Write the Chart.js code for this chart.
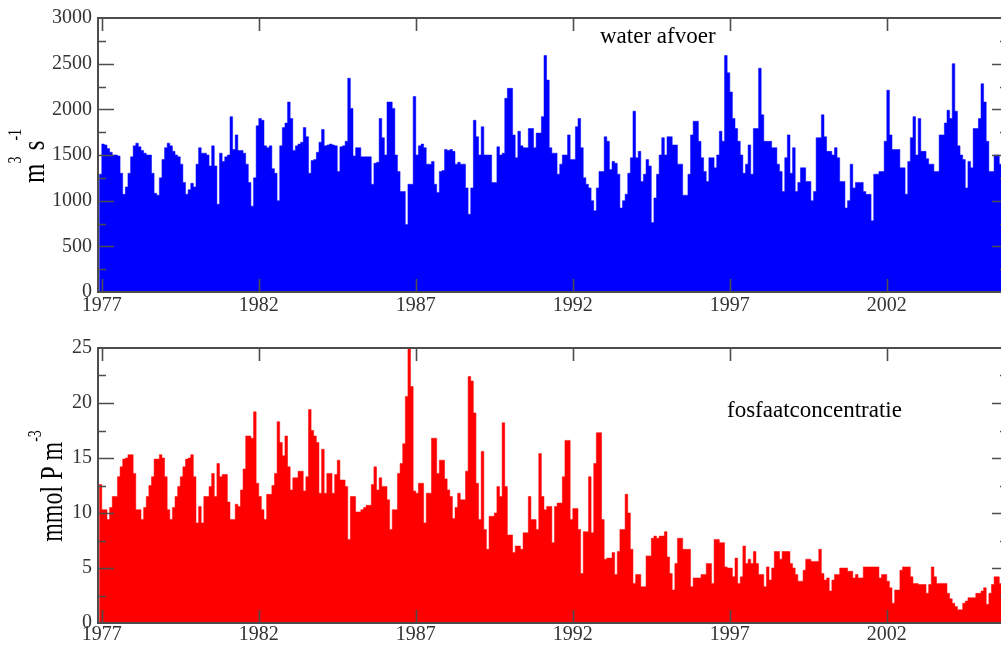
<!DOCTYPE html>
<html>
<head>
<meta charset="utf-8">
<script src="https://cdn.jsdelivr.net/npm/chart.js@4.4.1/dist/chart.umd.min.js"></script>
<style>
  html, body { margin: 0; padding: 0; background: #fff; overflow: hidden; }
  body { width: 1001px; height: 649px; position: relative; }
  canvas { position: absolute; left: 0; }
</style>
</head>
<body>
<canvas id="afvoerChart" width="1010" height="325" style="top:0"></canvas>
<canvas id="fosfaatChart" width="1010" height="324" style="top:325px"></canvas>
<script>
// monthly values, first entry is December 1976
const seriesStart = 1976 + 11 / 12;

// river discharge, m3/s
const afvoer = [
  1290,
  1620, 1610, 1570, 1530, 1500, 1500, 1490, 1300, 1070, 1150, 1300, 1480, // 1977
  1600, 1630, 1590, 1550, 1520, 1500, 1500, 1300, 1080, 1060, 1250, 1450, // 1978
  1580, 1630, 1600, 1540, 1500, 1480, 1400, 1200, 1070, 1120, 1190, 1150, // 1979
  1400, 1580, 1520, 1520, 1500, 1380, 1600, 1380, 960, 1520, 1430, 1480,  // 1980
  1500, 1920, 1560, 1720, 1550, 1550, 1520, 1400, 1200, 940, 1250, 1820,  // 1981
  1900, 1880, 1600, 1580, 1600, 1350, 1300, 1000, 1600, 1800, 1850, 2080, // 1982
  1900, 1550, 1600, 1620, 1640, 1800, 1700, 1300, 1440, 1450, 1530, 1640, // 1983
  1780, 1600, 1610, 1620, 1610, 1600, 1320, 1590, 1600, 1650, 2340, 2010, // 1984
  1490, 1580, 1580, 1480, 1480, 1480, 1480, 1180, 1410, 1420, 1900, 1690, // 1985
  1500, 2080, 2080, 2010, 1500, 1320, 1100, 1100, 740, 1180, 1180, 2140,  // 1986
  1500, 1600, 1620, 1580, 1400, 1400, 1430, 1180, 1090, 1320, 1330, 1560, // 1987
  1550, 1560, 1540, 1400, 1420, 1400, 1400, 1140, 850, 1140, 1880, 1700,  // 1988
  1500, 1810, 1500, 1500, 1500, 1200, 1200, 1590, 1500, 1520, 2120, 2230, // 1989
  2230, 1720, 1470, 1760, 1600, 1580, 1580, 1790, 1790, 1580, 1740, 1740, // 1990
  1920, 2590, 2320, 1580, 1520, 1520, 1290, 1400, 1500, 1500, 1720, 1450, // 1991
  1450, 1810, 1900, 1580, 1250, 1180, 1140, 1000, 890, 1140, 1320, 1320,  // 1992
  1700, 1650, 1340, 1430, 1410, 1290, 920, 1000, 1070, 1300, 1470, 1980,  // 1993
  1470, 1540, 1210, 1290, 1450, 1380, 760, 1030, 1290, 1500, 1690, 1500,  // 1994
  1700, 1700, 1610, 1610, 1400, 1400, 1060, 1060, 1290, 1720, 1870, 1870, // 1995
  1650, 1470, 1320, 1210, 1470, 1470, 1360, 1500, 1760, 1650, 2590, 2400, // 1996
  2190, 1900, 1790, 1650, 1500, 1300, 1400, 1610, 1290, 1790, 1790, 2450, // 1997
  1940, 1650, 1650, 1650, 1580, 1580, 1400, 1320, 1100, 1470, 1720, 1300, // 1998
  1580, 1100, 1200, 1360, 1360, 1210, 1210, 1000, 1100, 1690, 1690, 1940, // 1999
  1700, 1540, 1540, 1500, 1580, 1470, 1210, 1210, 920, 1000, 1400, 1140,  // 2000
  1200, 1200, 1200, 1100, 1070, 1070, 780, 1290, 1290, 1320, 1320, 1650,  // 2001
  2210, 1720, 1560, 1560, 1560, 1360, 1360, 1070, 1430, 1690, 1920, 1500, // 2002
  1900, 1540, 1540, 1460, 1400, 1400, 1320, 1320, 1720, 1720, 1850, 1990, // 2003
  1900, 2500, 1980, 1600, 1500, 1450, 1140, 1430, 1360, 1790, 1790, 1900, // 2004
  2280, 2080, 1650, 1320, 1320, 1500, 1500, 1400, 1380                    // 2005
];

// phosphate concentration, mmol P/m3
const fosfaat = [
  12.6,
  10.3, 10.3, 9.4, 10.5, 11.5, 11.5, 13.3, 14.2, 14.9, 15.0, 15.3, 15.3, // 1977
  13.6, 10.3, 10.3, 9.4, 10.5, 11.5, 12.5, 13.3, 14.9, 14.9, 15.3, 15.0, // 1978
  13.3, 10.3, 9.4, 10.5, 11.5, 12.4, 13.3, 14.2, 14.9, 15.0, 15.3, 13.3, // 1979
  9.1, 10.6, 9.1, 11.5, 11.5, 12.4, 13.6, 11.5, 14.5, 13.3, 13.5, 13.5,  // 1980
  11.0, 9.4, 9.4, 10.8, 10.6, 12.1, 14.0, 17.0, 17.0, 16.8, 19.2, 12.7,  // 1981
  11.5, 10.3, 9.4, 11.7, 11.7, 12.5, 13.6, 18.3, 16.4, 15.2, 17.0, 14.2, // 1982
  12.1, 13.2, 13.2, 13.8, 13.8, 12.0, 13.3, 19.4, 17.5, 17.0, 16.4, 11.8, // 1983
  15.8, 11.8, 13.6, 13.6, 11.8, 13.5, 14.8, 13.0, 13.0, 12.4, 7.6, 11.5, // 1984
  11.5, 10.1, 10.1, 10.3, 10.5, 10.7, 10.7, 12.6, 14.2, 12.1, 13.2, 12.4, // 1985
  12.4, 11.2, 8.5, 10.3, 10.3, 13.6, 14.5, 16.3, 20.6, 25.6, 21.5, 12.0, // 1986
  11.8, 12.7, 12.7, 9.1, 11.8, 11.8, 16.8, 16.8, 13.6, 14.8, 14.8, 13.1, // 1987
  12.1, 11.5, 9.5, 10.5, 11.8, 11.2, 11.2, 13.8, 22.4, 22.0, 19.1, 12.7, // 1988
  9.4, 15.6, 8.5, 6.7, 9.7, 9.7, 10.0, 12.4, 11.5, 18.2, 12.4, 8.0,      // 1989
  8.0, 6.4, 7.0, 7.0, 6.7, 8.2, 8.2, 11.5, 9.4, 9.4, 8.5, 15.4,          // 1990
  11.5, 10.3, 10.6, 10.6, 7.3, 10.6, 10.9, 10.9, 13.3, 16.6, 16.6, 9.4,  // 1991
  10.4, 10.4, 8.5, 4.5, 8.3, 8.3, 13.3, 8.2, 14.5, 17.3, 17.3, 9.4,      // 1992
  5.8, 5.9, 5.9, 6.4, 4.4, 6.5, 8.5, 8.5, 11.7, 10.0, 6.7, 3.6,          // 1993
  4.4, 4.4, 3.3, 3.3, 6.1, 6.1, 7.7, 7.9, 7.7, 7.9, 7.9, 8.3,            // 1994
  6.0, 4.5, 3.0, 5.4, 7.7, 7.7, 6.7, 6.7, 6.7, 3.3, 4.1, 4.1,            // 1995
  4.1, 4.4, 4.4, 5.4, 5.4, 3.6, 7.6, 7.6, 7.3, 7.3, 5.1, 5.0,            // 1996
  5.0, 4.2, 5.9, 3.6, 4.2, 7.0, 5.4, 5.8, 5.4, 6.5, 5.4, 4.4,            // 1997
  4.4, 3.3, 5.1, 3.9, 5.0, 6.5, 6.5, 5.8, 6.5, 6.5, 6.5, 5.4,            // 1998
  5.0, 4.4, 3.8, 3.8, 4.8, 5.8, 5.8, 5.6, 5.6, 5.6, 6.7, 4.5,            // 1999
  3.9, 4.1, 2.9, 3.9, 4.4, 4.4, 5.0, 5.0, 5.0, 4.7, 4.7, 4.1,            // 2000
  4.4, 4.1, 4.1, 5.1, 5.1, 5.1, 5.1, 5.1, 5.1, 4.1, 4.4, 4.4,            // 2001
  3.8, 3.2, 1.8, 3.0, 3.0, 4.8, 5.1, 5.1, 5.1, 4.2, 3.6, 3.6,            // 2002
  3.5, 3.5, 3.5, 2.7, 3.5, 5.1, 4.2, 3.6, 3.6, 3.6, 3.6, 2.7,            // 2003
  2.2, 1.8, 1.5, 1.2, 1.2, 1.8, 2.0, 2.3, 2.3, 2.3, 2.7, 2.7,            // 2004
  2.9, 3.2, 1.7, 2.7, 3.5, 4.2, 4.2, 3.6, 3.6                            // 2005
];

const yearTicks = [1977, 1982, 1987, 1992, 1997, 2002];
const afvoerTicks = [0, 500, 1000, 1500, 2000, 2500, 3000];
const fosfaatTicks = [0, 5, 10, 15, 20, 25];

const xMin = 1976.88;
const xMax = 2005.86;
const serif = '"Liberation Serif", "Times New Roman", serif';
const axisColor = '#4d4d4d';

function toPoints(values) {
  return values.map((v, i) => ({ x: seriesStart + i / 12, y: v }));
}

// box, inward tick marks, panel text and rotated unit label
const framePlugin = {
  id: 'frame',
  afterDraw(chart, args, opts) {
    const { ctx, chartArea: a, scales: { x, y } } = chart;
    ctx.save();
    ctx.strokeStyle = axisColor;
    ctx.lineWidth = 2;
    ctx.strokeRect(a.left, a.top, a.right - a.left, a.bottom - a.top);

    ctx.lineWidth = 1.6;
    ctx.beginPath();
    yearTicks.forEach(v => {
      const px = Math.round(x.getPixelForValue(v)) + 0.5;
      ctx.moveTo(px, a.top); ctx.lineTo(px, a.top + 13);
      ctx.moveTo(px, a.bottom); ctx.lineTo(px, a.bottom - 13);
    });
    for (let v = opts.minor; v < opts.max; v += opts.minor) {
      const major = Math.abs(v / opts.major - Math.round(v / opts.major)) < 1e-6;
      const len = major ? 16 : 8;
      const py = Math.round(y.getPixelForValue(v)) + 0.5;
      ctx.moveTo(a.left, py); ctx.lineTo(a.left + len, py);
      ctx.moveTo(a.right, py); ctx.lineTo(a.right - len, py);
    }
    ctx.stroke();

    // panel caption
    ctx.fillStyle = '#000';
    ctx.font = '23px ' + serif;
    ctx.textBaseline = 'alphabetic';
    ctx.textAlign = 'left';
    ctx.fillText(opts.caption, opts.captionX, opts.captionY);

    // unit label with superscripts, read bottom to top
    ctx.translate(opts.unitX, opts.unitY);
    ctx.rotate(-Math.PI / 2);
    ctx.scale(1, 1.3);
    let total = 0;
    opts.unit.forEach(p => {
      ctx.font = p.size + 'px ' + serif;
      total += ctx.measureText(p.text).width;
    });
    let pos = -total / 2;
    opts.unit.forEach(p => {
      ctx.font = p.size + 'px ' + serif;
      ctx.fillText(p.text, pos, -p.raise);
      pos += ctx.measureText(p.text).width;
    });
    ctx.restore();
  }
};

function makePanel(id, values, color, ticks, yMax, frame, layout) {
  new Chart(document.getElementById(id), {
    type: 'line',
    data: {
      datasets: [{
        data: toPoints(values),
        stepped: true,
        fill: 'origin',
        backgroundColor: color,
        borderColor: color,
        borderWidth: 0.5,
        pointRadius: 0
      }]
    },
    options: {
      responsive: false,
      animation: false,
      events: [],
      layout: { padding: { top: layout.top, right: 2, left: 0, bottom: 0 } },
      plugins: { legend: { display: false }, tooltip: { enabled: false }, frame },
      scales: {
        x: {
          type: 'linear',
          min: xMin,
          max: xMax,
          afterBuildTicks: s => { s.ticks = yearTicks.map(v => ({ value: v })); },
          afterFit: s => { s.height = layout.axisHeight; },
          ticks: {
            callback: v => String(v),
            font: { family: serif, size: 20 },
            color: '#333',
            padding: layout.labelGap,
            maxRotation: 0,
            autoSkip: false
          },
          grid: { display: false, drawTicks: false },
          border: { display: false }
        },
        y: {
          min: 0,
          max: yMax,
          afterBuildTicks: s => { s.ticks = ticks.map(v => ({ value: v })); },
          afterFit: s => { s.width = 98; },
          ticks: {
            callback: v => String(v),
            font: { family: serif, size: 20 },
            color: '#333',
            padding: 6
          },
          grid: { display: false, drawTicks: false },
          border: { display: false }
        }
      }
    },
    plugins: [framePlugin]
  });
}

makePanel('afvoerChart', afvoer, '#0000ff', afvoerTicks, 3000, {
  max: 3000, major: 500, minor: 250,
  caption: 'water afvoer', captionX: 600, captionY: 43,
  unitX: 44, unitY: 156,
  unit: [
    { text: 'm', size: 25, raise: 0 },
    { text: '3', size: 14, raise: 18 },
    { text: ' s', size: 25, raise: 0 },
    { text: '-1', size: 14, raise: 18 }
  ]
}, { top: 16, axisHeight: 33, labelGap: 2 });

makePanel('fosfaatChart', fosfaat, '#ff0000', fosfaatTicks, 25, {
  max: 25, major: 5, minor: 2.5,
  caption: 'fosfaatconcentratie', captionX: 727, captionY: 92,
  unitX: 62, unitY: 161,
  unit: [
    { text: 'mmol P m', size: 24, raise: 0 },
    { text: '-3', size: 14, raise: 16 }
  ]
}, { top: 23, axisHeight: 26, labelGap: 0 });
</script>
</body>
</html>
